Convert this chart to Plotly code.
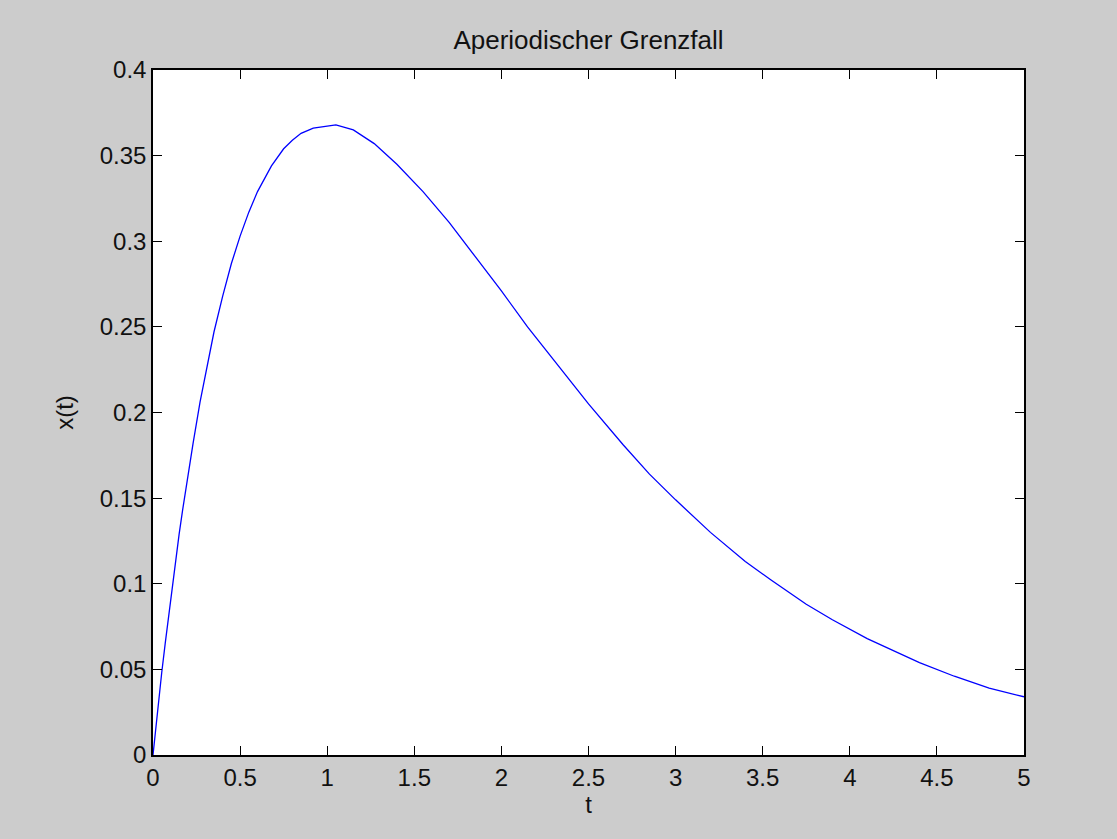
import plotly.graph_objects as go

# Data
t_vals = [0, 0.02, 0.05, 0.07, 0.1, 0.12, 0.15, 0.17, 0.2, 0.23, 0.27, 0.31, 0.35, 0.4,
          0.45, 0.5, 0.55, 0.6, 0.68, 0.75, 0.8, 0.85, 0.92, 1.05, 1.15, 1.27, 1.4, 1.55,
          1.7, 1.85, 2.0, 2.15, 2.3, 2.5, 2.7, 2.85, 3.0, 3.2, 3.4, 3.55, 3.75, 3.9, 4.1,
          4.25, 4.4, 4.6, 4.8, 5.0]
x_vals = [0, 0.020, 0.048, 0.065, 0.090, 0.106, 0.129, 0.143, 0.164, 0.182, 0.206, 0.227,
          0.247, 0.268, 0.287, 0.303, 0.317, 0.329, 0.344, 0.354, 0.359, 0.363, 0.366,
          0.368, 0.365, 0.357, 0.345, 0.329, 0.311, 0.291, 0.271, 0.250, 0.231, 0.205,
          0.181, 0.164, 0.149, 0.130, 0.113, 0.102, 0.088, 0.079, 0.068, 0.061, 0.054,
          0.046, 0.039, 0.034]

x_ticks = [0, 0.5, 1, 1.5, 2, 2.5, 3, 3.5, 4, 4.5, 5]
x_ticktext = ["0", "0.5", "1", "1.5", "2", "2.5", "3", "3.5", "4", "4.5", "5"]
y_ticks = [0, 0.05, 0.1, 0.15, 0.2, 0.25, 0.3, 0.35, 0.4]
y_ticktext = ["0", "0.05", "0.1", "0.15", "0.2", "0.25", "0.3", "0.35", "0.4"]

fig = go.Figure()
fig.add_trace(go.Scatter(x=t_vals, y=x_vals, mode="lines",
                         line=dict(color="#0000ff", width=1.3), showlegend=False))

font = dict(family="Liberation Sans, Arial, Helvetica, sans-serif", size=24, color="#111111")

axis_common = dict(showline=True, linecolor="#000000", linewidth=1.5, mirror="allticks",
                   ticks="inside", ticklen=9, tickcolor="#000000", tickwidth=1.3,
                   showgrid=False, zeroline=False, tickfont=font)

fig.update_layout(
    width=1117, height=839,
    paper_bgcolor="#cccccc", plot_bgcolor="#ffffff",
    margin=dict(l=153, r=93, t=70, b=84),
    title=dict(text="Aperiodischer Grenzfall", x=0.5, xref="paper", xanchor="center",
               y=1 - 40 / 839, yref="container", yanchor="middle",
               font=dict(family="Liberation Sans, Arial, sans-serif", size=26, color="#111111")),
    xaxis=dict(range=[0, 5], tickvals=x_ticks, ticktext=x_ticktext,
               title=dict(text="t", font=font, standoff=2), **axis_common),
    yaxis=dict(range=[0, 0.4], tickvals=y_ticks, ticktext=y_ticktext,
               title=dict(text="x(t)", font=font, standoff=19), **axis_common),
)

fig.write_html("out.html", config={"displayModeBar": False},
               post_script="document.body.style.margin='0';")
